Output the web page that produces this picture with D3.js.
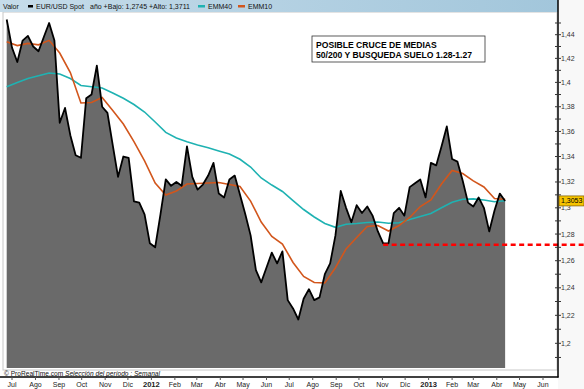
<!DOCTYPE html>
<html>
<head>
<meta charset="utf-8">
<script src="https://cdn.jsdelivr.net/npm/d3@7"></script>
<style>
  body { margin: 0; background: #fff; }
  svg { display: block; font-family: "Liberation Sans", Arial, sans-serif; }
</style>
</head>
<body>
<div class="viz"></div>
<script>
// weekly closes EUR/USD, first week ending 24 jun 2011
const firstWeek = new Date(2011, 5, 24);
const prices = [1.453, 1.429, 1.417, 1.435, 1.439, 1.430, 1.426, 1.438, 1.450, 1.435,
  1.367, 1.379, 1.357, 1.341, 1.339, 1.387, 1.390, 1.414, 1.380, 1.375,
  1.349, 1.324, 1.340, 1.339, 1.305, 1.304, 1.295, 1.273, 1.270, 1.295,
  1.322, 1.317, 1.320, 1.317, 1.348, 1.324, 1.314, 1.318, 1.325, 1.335,
  1.311, 1.308, 1.322, 1.325, 1.310, 1.295, 1.279, 1.253, 1.244, 1.255,
  1.266, 1.258, 1.267, 1.231, 1.225, 1.217, 1.232, 1.239, 1.231, 1.233,
  1.250, 1.258, 1.279, 1.313, 1.300, 1.289, 1.302, 1.296, 1.301, 1.294,
  1.282, 1.273, 1.273, 1.296, 1.300, 1.294, 1.316, 1.319, 1.322, 1.308,
  1.335, 1.333, 1.348, 1.364, 1.338, 1.336, 1.321, 1.304, 1.301, 1.308,
  1.300, 1.282, 1.298, 1.311, 1.3053];
// moving averages read every two weeks
const emm40 = [1.3964, 1.3999, 1.4032, 1.4055, 1.4078, 1.4070, 1.4032, 1.3974, 1.3964, 1.3954,
  1.3913, 1.3869, 1.3818, 1.3757, 1.3676, 1.3592, 1.3548, 1.3518, 1.3492, 1.3469,
  1.3444, 1.3420, 1.3378, 1.3317, 1.3231, 1.3176, 1.3126, 1.3056, 1.2987, 1.2930,
  1.2880, 1.2851, 1.2874, 1.2880, 1.2888, 1.2891, 1.2882, 1.2886, 1.2911, 1.2934,
  1.2956, 1.3000, 1.3043, 1.3066, 1.3069, 1.3060, 1.3047, 1.3055];
const emm10 = [1.4341, 1.4308, 1.4326, 1.4314, 1.4352, 1.4245, 1.4082, 1.3831, 1.3834, 1.3876,
  1.3769, 1.3660, 1.3519, 1.3365, 1.3192, 1.3099, 1.3130, 1.3184, 1.3188, 1.3192,
  1.3196, 1.3180, 1.3165, 1.3052, 1.2891, 1.2782, 1.2725, 1.2587, 1.2483, 1.2439,
  1.2435, 1.2548, 1.2688, 1.2774, 1.2857, 1.2865, 1.2823, 1.2865, 1.2926, 1.3010,
  1.3060, 1.3184, 1.3290, 1.3266, 1.3209, 1.3161, 1.3072, 1.3066];
const monthLabels = ['Jul', 'Ago', 'Sep', 'Oct', 'Nov', 'Dic', '2012', 'Feb', 'Mar', 'Abr', 'May', 'Jun',
  'Jul', 'Ago', 'Sep', 'Oct', 'Nov', 'Dic', '2013', 'Feb', 'Mar', 'Abr', 'May', 'Jun'];
const yTicks = [1.2, 1.22, 1.24, 1.26, 1.28, 1.3, 1.32, 1.34, 1.36, 1.38, 1.4, 1.42, 1.44];
const yMinorTicks = [1.19, 1.21, 1.23, 1.25, 1.27, 1.29, 1.31, 1.33, 1.35, 1.37, 1.39, 1.41, 1.43, 1.45];
const supportLevel = 1.272;
const supportFromWeek = 71;
const lastPrice = 1.3053;

const width = 584;
const height = 389;
const plot = { left: 3, top: 12, right: 557, bottom: 370 };
const axisX = 558;

const priceData = prices.map((value, i) => ({ date: d3.timeDay.offset(firstWeek, 7 * i), value }));
const emm40Data = emm40.map((value, i) => ({ date: d3.timeDay.offset(firstWeek, 14 * i), value }));
const emm10Data = emm10.map((value, i) => ({ date: d3.timeDay.offset(firstWeek, 14 * i), value }));
const months = d3.timeMonth.range(new Date(2011, 6, 1), new Date(2013, 6, 1));

const xScale = d3.scaleTime()
  .domain([new Date(2011, 6, 1), new Date(2013, 5, 1)])
  .range([12, 543]);

// the chart uses a logarithmic price scale
const yScale = d3.scaleLog()
  .domain([1.2, 1.44])
  .range([343.3, 34.7]);

const svg = d3.select('.viz')
  .append('svg')
  .attr('width', width)
  .attr('height', height);

const defs = svg.append('defs');
const headerGradient = defs.append('linearGradient')
  .attr('id', 'header-gradient')
  .attr('x1', 0).attr('x2', 1).attr('y1', 0).attr('y2', 0);
headerGradient.append('stop').attr('offset', 0).attr('stop-color', '#c6dcea');
headerGradient.append('stop').attr('offset', 1).attr('stop-color', '#a2c6db');

// right side background
svg.append('rect')
  .attr('x', axisX).attr('y', 0)
  .attr('width', width - axisX).attr('height', height)
  .attr('fill', '#f8f8f8');

// plot background
svg.append('rect')
  .attr('x', plot.left).attr('y', plot.top)
  .attr('width', plot.right - plot.left).attr('height', plot.bottom - plot.top)
  .attr('fill', '#fff')
  .attr('stroke', '#c8c8c8')
  .attr('stroke-width', 1);

const clip = defs.append('clipPath').attr('id', 'plot-clip');
clip.append('rect')
  .attr('x', plot.left).attr('y', plot.top)
  .attr('width', plot.right - plot.left).attr('height', plot.bottom - plot.top - 2);

const groupPlot = svg.append('g').attr('clip-path', 'url(#plot-clip)');

const area = d3.area()
  .x(d => xScale(d.date))
  .y0(plot.bottom)
  .y1(d => yScale(d.value));

const line = d3.line()
  .x(d => xScale(d.date))
  .y(d => yScale(d.value));

groupPlot.append('path')
  .attr('d', area(priceData))
  .attr('fill', '#6a6a6a');

groupPlot.append('path')
  .attr('d', line(emm40Data))
  .attr('fill', 'none')
  .attr('stroke', '#1fb2b2')
  .attr('stroke-width', 1.6);

groupPlot.append('path')
  .attr('d', line(emm10Data))
  .attr('fill', 'none')
  .attr('stroke', '#d2561c')
  .attr('stroke-width', 1.6);

groupPlot.append('path')
  .attr('d', line(priceData))
  .attr('fill', 'none')
  .attr('stroke', '#000')
  .attr('stroke-width', 1.8)
  .attr('stroke-linejoin', 'round');

// header bar with legend
svg.append('rect')
  .attr('x', 0).attr('y', 0)
  .attr('width', axisX).attr('height', plot.top)
  .attr('fill', 'url(#header-gradient)');

const legend = svg.append('g')
  .attr('font-size', 7)
  .attr('fill', '#111');
legend.append('text').attr('x', 3).attr('y', 8.5).text('Valor');
legend.append('rect').attr('x', 28).attr('y', 5).attr('width', 5).attr('height', 2.5).attr('fill', '#000');
legend.append('text').attr('x', 36).attr('y', 8.5).text('EUR/USD Spot');
legend.append('text').attr('x', 90).attr('y', 8.5).text('año +Bajo: 1,2745 +Alto: 1,3711');
legend.append('rect').attr('x', 198).attr('y', 5).attr('width', 7).attr('height', 2.5).attr('fill', '#1fb2b2');
legend.append('text').attr('x', 208).attr('y', 8.5).text('EMM40');
legend.append('rect').attr('x', 238).attr('y', 5).attr('width', 7).attr('height', 2.5).attr('fill', '#d2561c');
legend.append('text').attr('x', 248).attr('y', 8.5).text('EMM10');

// annotation box
const note = svg.append('g');
note.append('rect')
  .attr('x', 312).attr('y', 36)
  .attr('width', 173).attr('height', 26)
  .attr('fill', '#fff')
  .attr('stroke', '#333')
  .attr('stroke-width', 0.8);
note.append('text')
  .attr('x', 316).attr('y', 47.5)
  .attr('font-size', 8.6)
  .attr('font-weight', 'bold')
  .text('POSIBLE CRUCE DE MEDIAS');
note.append('text')
  .attr('x', 316).attr('y', 57.5)
  .attr('font-size', 8.6)
  .attr('font-weight', 'bold')
  .text('50/200 Y BUSQUEDA SUELO 1.28-1.27');

// support line
svg.append('line')
  .attr('x1', xScale(priceData[supportFromWeek].date))
  .attr('x2', width)
  .attr('y1', yScale(supportLevel))
  .attr('y2', yScale(supportLevel))
  .attr('stroke', '#ff0000')
  .attr('stroke-width', 2.5)
  .attr('stroke-dasharray', '5,3.5');

// footer
const footer = svg.append('text')
  .attr('x', 4).attr('y', 375.5)
  .attr('font-size', 6.6)
  .attr('fill', '#111');
footer.append('tspan').text('© ProRealTime.com  ');
footer.append('tspan').attr('font-style', 'italic').text('Selección del período : Semanal');

// frame lines
svg.append('line')
  .attr('x1', 0).attr('x2', axisX + 0.5)
  .attr('y1', 377).attr('y2', 377)
  .attr('stroke', '#000').attr('stroke-width', 1.5);
svg.append('line')
  .attr('x1', axisX).attr('x2', axisX)
  .attr('y1', 0).attr('y2', 377.5)
  .attr('stroke', '#000').attr('stroke-width', 1.5);

// y axis on the right
const yAxis = svg.append('g').attr('class', 'y-axis');
yAxis.selectAll('line.minor')
  .data(yMinorTicks)
  .enter()
  .append('line')
  .attr('class', 'minor')
  .attr('x1', axisX - 3).attr('x2', axisX + 3)
  .attr('y1', d => yScale(d)).attr('y2', d => yScale(d))
  .attr('stroke', '#333');
yAxis.selectAll('line.major')
  .data(yTicks)
  .enter()
  .append('line')
  .attr('class', 'major')
  .attr('x1', axisX - 3).attr('x2', axisX + 3)
  .attr('y1', d => yScale(d)).attr('y2', d => yScale(d))
  .attr('stroke', '#333');
yAxis.selectAll('text')
  .data(yTicks)
  .enter()
  .append('text')
  .attr('x', axisX + 3)
  .attr('y', d => yScale(d) + 2.5)
  .attr('font-size', 7)
  .attr('fill', '#333')
  .text(d => String(d).replace('.', ','));

// last price tag
const tagY = yScale(lastPrice);
svg.append('rect')
  .attr('x', axisX + 1).attr('y', tagY - 5)
  .attr('width', 25).attr('height', 10)
  .attr('fill', '#f6c400')
  .attr('stroke', '#7a5a00')
  .attr('stroke-width', 0.7);
svg.append('text')
  .attr('x', axisX + 3).attr('y', tagY + 2.5)
  .attr('font-size', 7)
  .attr('fill', '#000')
  .text(String(lastPrice).replace('.', ','));

// x axis months
const xAxis = svg.append('g').attr('class', 'x-axis');
xAxis.selectAll('line')
  .data(months)
  .enter()
  .append('line')
  .attr('x1', d => xScale(d)).attr('x2', d => xScale(d))
  .attr('y1', 377).attr('y2', 380)
  .attr('stroke', '#555');
xAxis.selectAll('text')
  .data(months)
  .enter()
  .append('text')
  .attr('x', d => xScale(d))
  .attr('y', 387)
  .attr('text-anchor', 'middle')
  .attr('font-size', (d, i) => (/^\d+$/.test(monthLabels[i]) ? 7.6 : 7))
  .attr('font-weight', (d, i) => (/^\d+$/.test(monthLabels[i]) ? 'bold' : 'normal'))
  .attr('fill', '#222')
  .text((d, i) => monthLabels[i]);
</script>
</body>
</html>
